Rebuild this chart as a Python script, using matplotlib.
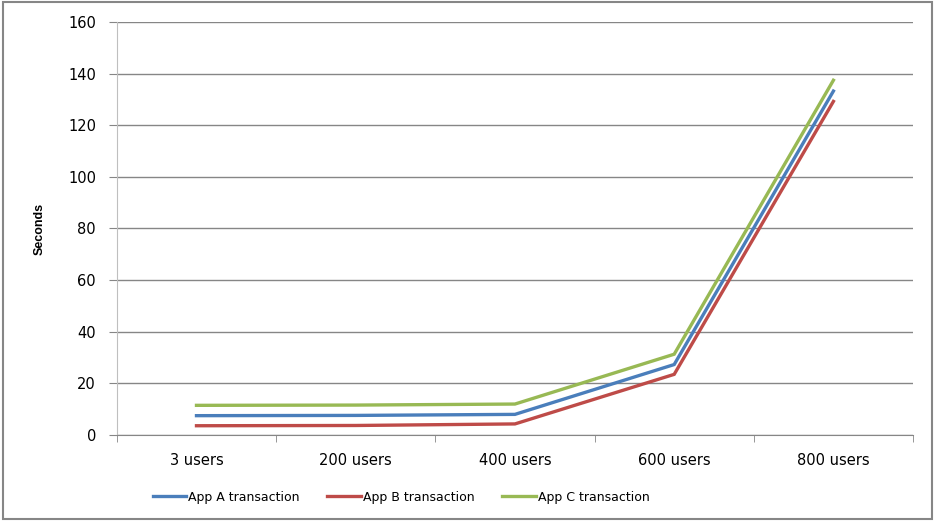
import matplotlib
matplotlib.use("Agg")
import matplotlib.pyplot as plt
from matplotlib.patches import Rectangle
import numpy as np

# data
categories = ["3 users", "200 users", "400 users", "600 users", "800 users"]
app_a = [7.5, 7.6, 8.0, 27.3, 133.2]
app_b = [3.6, 3.7, 4.3, 23.5, 129.2]
app_c = [11.5, 11.6, 12.0, 31.3, 137.4]

series = [
    ("App A transaction", app_a, "#4A7EBB"),
    ("App B transaction", app_b, "#BE4B48"),
    ("App C transaction", app_c, "#98B954"),
]

fig = plt.figure(figsize=(9.35, 5.21), dpi=100)
ax = fig.add_axes([0.125, 0.165, 0.8515, 0.793])

x = np.arange(len(categories))
for name, vals, col in series:
    ax.plot(x, vals, color=col, linewidth=2.4, label=name, solid_joinstyle="miter")

ax.set_xlim(-0.5, len(categories) - 0.5)
ax.set_ylim(0, 160)
ax.set_yticks(np.arange(0, 161, 20))
ax.yaxis.grid(True, color="#868686", linewidth=1)
ax.set_axisbelow(True)

# category labels in the middle, tick marks on the boundaries
ax.set_xticks(x)
ax.set_xticklabels(categories, fontsize=10.5)
ax.tick_params(axis="x", which="major", length=0, pad=13)
ax.set_xticks(np.arange(-0.5, len(categories)), minor=True)
ax.tick_params(axis="x", which="minor", length=5, color="#868686", direction="out")
ax.tick_params(axis="y", length=6, color="#868686", labelsize=10.5, pad=9)

for s in ["top", "right"]:
    ax.spines[s].set_visible(False)
ax.spines["left"].set_color("#BFBFBF")
ax.spines["bottom"].set_color("#868686")

ax.set_ylabel("Seconds", fontsize=9, fontweight="bold", family="Liberation Sans")
ax.yaxis.set_label_coords(-0.089, 0.5)

fig.legend(loc="center", bbox_to_anchor=(0.429, 0.046), ncol=3, frameon=False,
           fontsize=9, handlelength=2.7, handletextpad=0.15, columnspacing=2.2)

# outer chart border
fig.patches.append(Rectangle((0.003, 0.003), 0.994, 0.994, transform=fig.transFigure,
                             fill=False, edgecolor="#868686", linewidth=1.5))

fig.savefig("out.png", dpi=100)
